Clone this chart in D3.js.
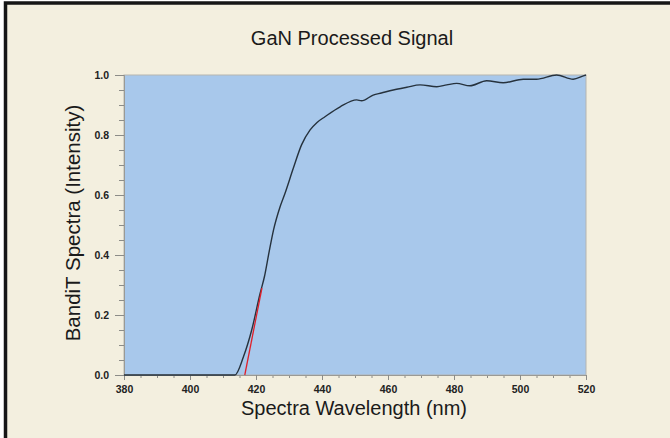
<!DOCTYPE html>
<html>
<head>
<meta charset="utf-8">
<script src="https://cdn.jsdelivr.net/npm/d3@7"></script>
<style>
  body { margin: 0; background: #ffffff; }
  svg { display: block; font-family: "Liberation Sans", Arial, sans-serif; }
</style>
</head>
<body>
<div id="chart"></div>
<script>
// spectrum (wavelength nm / normalised intensity)
var wavelength = [380, 413.6, 416.2, 418.7, 421.2, 422.6, 423.9, 425.3, 427.3, 428.8, 431.3, 433.8, 436.4, 438.5, 440.9, 445.5, 450.5, 452, 455.5, 458, 461.6, 465.7, 469.7, 474.8, 477.8, 480.8, 484.8, 489.9, 494.9, 501, 505, 511.1, 516.1, 519.2, 520];
var intensity = [0, 0, 0.061, 0.15, 0.27, 0.33, 0.406, 0.483, 0.561, 0.606, 0.689, 0.767, 0.817, 0.842, 0.861, 0.894, 0.917, 0.914, 0.933, 0.94, 0.95, 0.959, 0.967, 0.961, 0.967, 0.972, 0.964, 0.981, 0.974, 0.986, 0.986, 1.0, 0.986, 0.997, 1.0];

// red edge fit line
var fitWavelength = [416.6, 421.8];
var fitIntensity = [0, 0.29];

var xTicks = [380, 400, 420, 440, 460, 480, 500, 520];
var yTicks = [0.0, 0.2, 0.4, 0.6, 0.8, 1.0];

var W = 670, H = 438;
var plotL = 124, plotR = 586, plotT = 75, plotB = 375;

var svg = d3.select('#chart').append('svg')
    .attr('width', W)
    .attr('height', H);

// frame
svg.append('rect')
    .attr('x', 5.5).attr('y', 3)
    .attr('width', 720).attr('height', 500)
    .attr('fill', '#f3efdf')
    .attr('stroke', '#161616')
    .attr('stroke-width', 3.5);

var x = d3.scaleLinear().domain([380, 520]).range([plotL, plotR]);
var y = d3.scaleLinear().domain([0, 1]).range([plotB, plotT]);

// plot area
svg.append('rect')
    .attr('x', plotL).attr('y', plotT)
    .attr('width', plotR - plotL).attr('height', plotB - plotT)
    .attr('fill', '#a8c8eb')
    .attr('stroke', '#b5b5b0')
    .attr('stroke-width', 1);

// axes
var xAxis = d3.axisBottom(x)
    .tickValues(xTicks)
    .tickFormat(d3.format('d'))
    .tickSize(5)
    .tickPadding(6);
var xMinor = d3.axisBottom(x)
    .tickValues(d3.range(380, 521, 5).filter(function(d) { return d % 20 != 0; }))
    .tickFormat('')
    .tickSize(3);

var yAxis = d3.axisLeft(y)
    .tickValues(yTicks)
    .tickFormat(d3.format('.1f'))
    .tickSize(9)
    .tickPadding(6);
var yMinor = d3.axisLeft(y)
    .tickValues(d3.range(0, 1.001, 0.05).filter(function(d) { return Math.round(d * 100) % 20 != 0; }))
    .tickFormat('')
    .tickSize(5);

function styleAxis(g) {
  g.select('.domain').attr('stroke', '#9a9a95');
  g.selectAll('.tick line').attr('stroke', '#8c8c88');
  g.selectAll('.tick text').attr('fill', '#222').style('font-size', '10.5px').style('font-weight', '600');
}

svg.append('g').attr('transform', 'translate(0,' + plotB + ')').call(xMinor).call(styleAxis);
svg.append('g').attr('transform', 'translate(0,' + plotB + ')').call(xAxis).call(styleAxis);
svg.append('g').attr('transform', 'translate(' + plotL + ',0)').call(yMinor).call(styleAxis);
svg.append('g').attr('transform', 'translate(' + plotL + ',0)').call(yAxis).call(styleAxis);

// curves
var line = d3.line()
    .x(function(d) { return x(d[0]); })
    .y(function(d) { return y(d[1]); })
    .curve(d3.curveMonotoneX);

svg.append('path')
    .datum(d3.zip(wavelength, intensity))
    .attr('d', line)
    .attr('fill', 'none')
    .attr('stroke', '#26323d')
    .attr('stroke-width', 1.4);

svg.append('path')
    .datum(d3.zip(fitWavelength, fitIntensity))
    .attr('d', d3.line().x(function(d) { return x(d[0]); }).y(function(d) { return y(d[1]); }))
    .attr('fill', 'none')
    .attr('stroke', '#e0202a')
    .attr('stroke-width', 1.3);

// labels
svg.append('text')
    .attr('x', 352).attr('y', 45)
    .attr('text-anchor', 'middle')
    .style('font-size', '20px')
    .attr('fill', '#1a1a1a')
    .text('GaN Processed Signal');

svg.append('text')
    .attr('x', 354).attr('y', 415)
    .attr('text-anchor', 'middle')
    .style('font-size', '20px')
    .attr('fill', '#1a1a1a')
    .text('Spectra Wavelength (nm)');

svg.append('text')
    .attr('transform', 'translate(80,223) rotate(-90)')
    .attr('text-anchor', 'middle')
    .style('font-size', '20.5px')
    .attr('fill', '#1a1a1a')
    .text('BandiT Spectra (Intensity)');
</script>
</body>
</html>
